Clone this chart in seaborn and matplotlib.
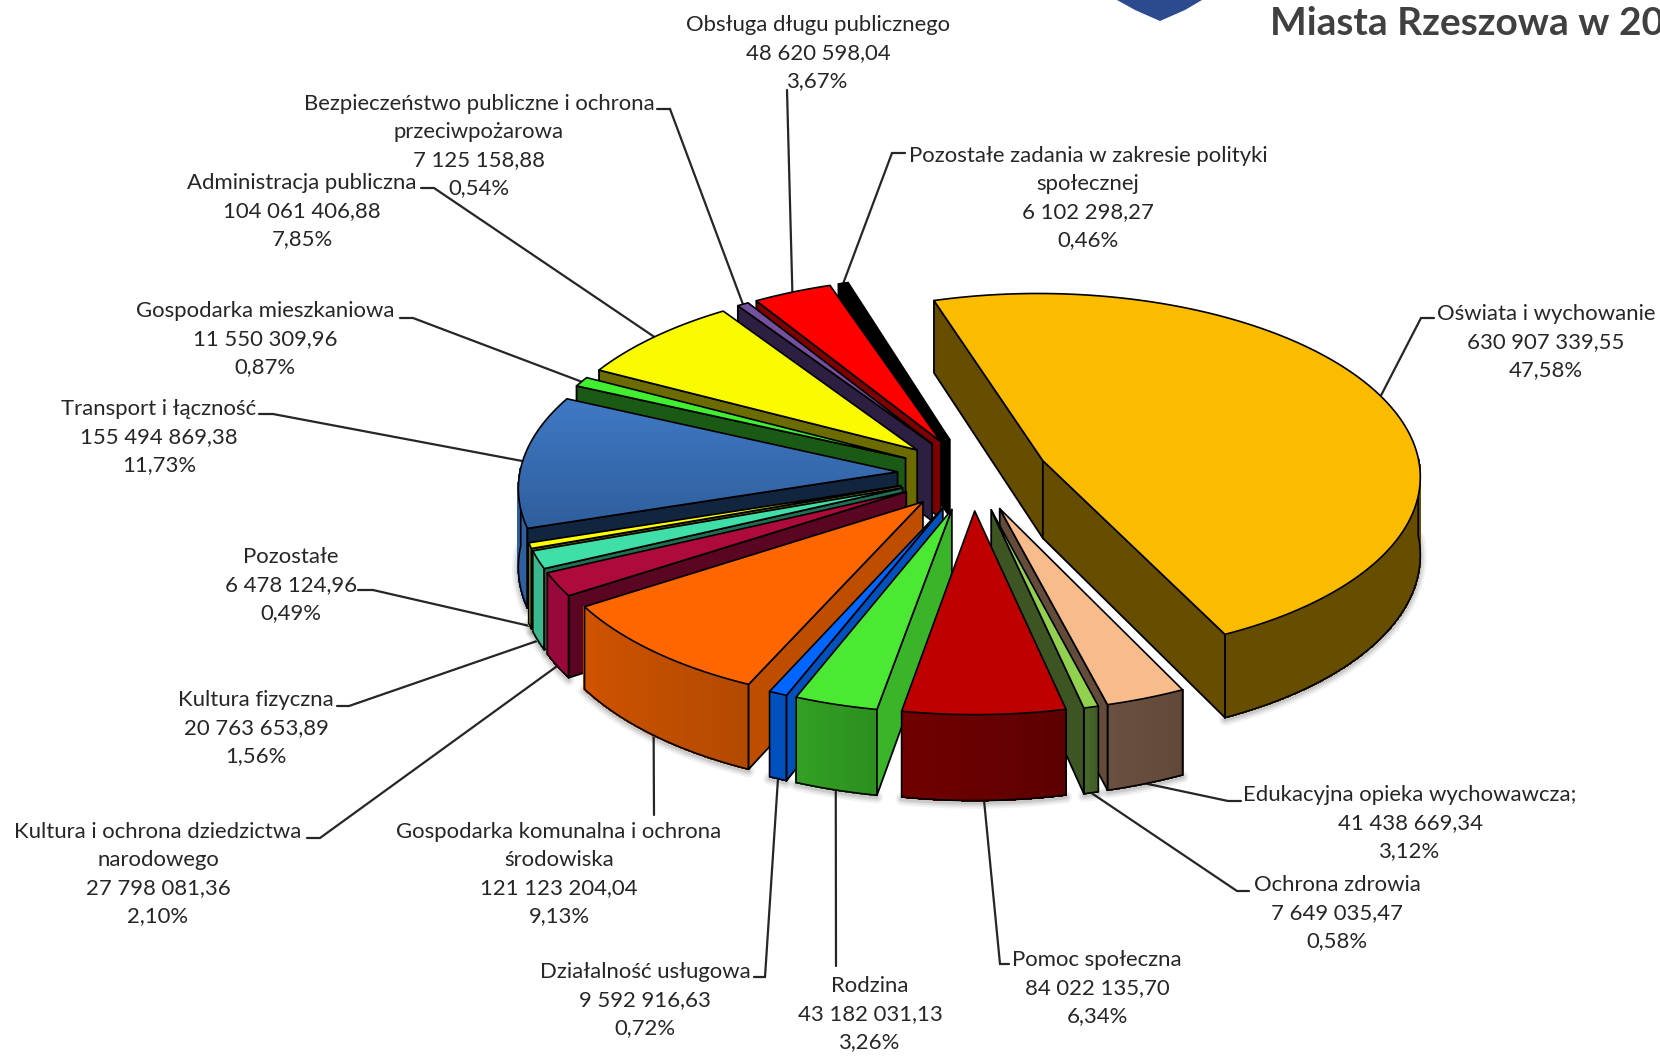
"""Wydatki budżetu Miasta Rzeszowa: exploded 3D pie drawn with seaborn colours."""

import matplotlib

matplotlib.use("Agg")
import matplotlib.pyplot as plt
import numpy as np
import pandas as pd
import seaborn as sns
from matplotlib.colors import to_rgb
from matplotlib.patches import Polygon

# ── Data ───────────────────────────────────────────────────────────────────

categories = [
    "Oświata i wychowanie",
    "Edukacyjna opieka wychowawcza;",
    "Ochrona zdrowia",
    "Pomoc społeczna",
    "Rodzina",
    "Działalność usługowa",
    "Gospodarka komunalna i ochrona\nśrodowiska",
    "Kultura i ochrona dziedzictwa\nnarodowego",
    "Kultura fizyczna",
    "Pozostałe",
    "Transport i łączność",
    "Gospodarka mieszkaniowa",
    "Administracja publiczna",
    "Bezpieczeństwo publiczne i ochrona\nprzeciwpożarowa",
    "Obsługa długu publicznego",
    "Pozostałe zadania w zakresie polityki\nspołecznej",
]
values = [
    630907339.55, 41438669.34, 7649035.47, 84022135.70, 43182031.13,
    9592916.63, 121123204.04, 27798081.36, 20763653.89, 6478124.96,
    155494869.38, 11550309.96, 104061406.88, 7125158.88, 48620598.04,
    6102298.27,
]
shares = [
    "47,58%", "3,12%", "0,58%", "6,34%", "3,26%", "0,72%", "9,13%", "2,10%",
    "1,56%", "0,49%", "11,73%", "0,87%", "7,85%", "0,54%", "3,67%", "0,46%",
]
top_colors = [
    "#FBBC00", "#F7BB8C", "#92D050", "#BE0000", "#4BE834", "#0066FF",
    "#FF6600", "#AE0A3C", "#40DFA8", "#FFFF00", "#3B72BC", "#40F030",
    "#FAFA00", "#7650A0", "#FF0000", "#000000",
]
side_colors = [
    "#664D00", "#654B3A", "#3C5522", "#6A0000", "#3AB52A", "#0050BE",
    "#BF4D00", "#5A0522", "#1F6F55", "#5F5F00", "#12253F", "#1B5A15",
    "#6B6B00", "#2D1F42", "#7F0000", "#000000",
]
# wall colours at the two ends of the outer arc
wall_left = [
    "#664D00", "#6A5040", "#46662A", "#700000", "#33A024", "#0050BE",
    "#D05300", "#98083C", "#3BB88E", "#D9D900", "#2F5F9E", "#2FB024",
    "#C0C000", "#5A3D80", "#BF0000", "#000000",
]
wall_right = [
    "#664D00", "#614838", "#3F5B24", "#5D0000", "#2C8F20", "#0050BE",
    "#B34A00", "#98083C", "#3BB88E", "#D9D900", "#2F5F9E", "#2FB024",
    "#C0C000", "#5A3D80", "#BF0000", "#000000",
]

# ── Layout (pixels of the 1660x1056 picture) ───────────────────────────────

CX, CY = 973, 474       # pie centre
A, B = 378, 182         # plane scale, horizontal and vertical
P = 0.077               # perspective strength
H = 78                  # thickness
EXPLODE = 0.2
START_DEG = -17.3

LABEL_XY = [
    (1546, 342), (1410, 823), (1337, 913), (1097, 988), (870, 1014),
    (645, 1000), (559, 874), (158, 874), (256, 728), (291, 585), (159, 437),
    (265, 339), (302, 211), (479, 146), (818, 53), (1088, 198),
]
# leader route from the slice to its label
LEADER_ROUTE = [
    [(1421, 318), (1434, 318)],
    [(1228, 801), (1241, 801)],
    [(1237, 891), (1249, 891)],
    [(1000, 964), (1009, 964)],
    [(836, 966)],
    [(765, 977), (754, 977)],
    [(654, 815)],
    [(320, 838), (307, 838)],
    [(349, 706), (337, 706)],
    [(373, 590), (358, 590)],
    [(273, 414), (259, 414)],
    [(413, 318), (400, 318)],
    [(434, 188), (421, 188)],
    [(670, 109), (657, 109)],
    [(787, 90)],
    [(892, 153), (905, 153)],
]

TEXT_COLOR = "#262626"
FONT = ["Lato", "DejaVu Sans"]


def project(u, v, z=0.0):
    """Map pie-plane coordinates to picture pixels."""
    u, v, z = np.asarray(u, float), np.asarray(v, float), np.asarray(z, float)
    s = 1 / (1 - P * v)
    return CX + A * u * s, CY + B * v * s + H * z * s


def format_value(value):
    whole, frac = f"{value:.2f}".split(".")
    return f"{int(whole):,}".replace(",", " ") + "," + frac


def face(ax, x, y, color, z, lw=1.3, edge="black"):
    ax.fill(x, y, facecolor=color, edgecolor=edge, linewidth=lw, zorder=z,
            joinstyle="round")


def slice_geometry(a, b):
    mid = np.radians((a + b) / 2)
    ox, oy = EXPLODE * np.sin(mid), -EXPLODE * np.cos(mid)
    t = np.radians(np.linspace(a, b, max(int(b - a) * 2, 3)))
    return ox, oy, ox + np.sin(t), oy - np.cos(t), t


def draw_slice(ax, a, b, top, side, wall_l, wall_r, z, gradient=False):
    ox, oy, au, av, t = slice_geometry(a, b)

    # outer wall, only where it looks toward the viewer
    front = (np.cos(t) < 0.02)
    if front.sum() > 1:
        idx = np.where(front)[0]
        wu, wv = au[idx], av[idx]
        sx, sy = project(wu, wv, 1)
        for lw, alpha in ((9, 0.05), (6, 0.07), (3, 0.1)):
            ax.plot(sx, sy + 2, color="black", lw=lw, alpha=alpha, zorder=z,
                    solid_capstyle="round")
        c0, c1 = np.array(to_rgb(wall_r)), np.array(to_rgb(wall_l))
        tx, ty = project(wu, wv, 0)
        n = len(wu) - 1
        for i in range(n):
            mix = i / max(n - 1, 1)
            col = c0 * (1 - mix) + c1 * mix
            # no antialiasing here, it leaves stripes between the segments
            ax.fill([tx[i], tx[i + 1], sx[i + 1], sx[i]],
                    [ty[i], ty[i + 1], sy[i + 1], sy[i]],
                    facecolor=col, edgecolor=col, linewidth=0.8,
                    antialiased=False, zorder=z + 0.1)
        ax.plot(np.r_[tx[0], sx, tx[-1]], np.r_[ty[0], sy, ty[-1]],
                color="black", lw=1.2, zorder=z + 0.2)

    # radial cut faces
    for ang, visible, u, v in (
        (a, np.sin(np.radians(a)) < 0, au[0], av[0]),
        (b, np.sin(np.radians(b)) > 0, au[-1], av[-1]),
    ):
        if visible:
            x, y = project([ox, u, u, ox], [oy, v, v, oy], [0, 0, 1, 1])
            face(ax, x, y, side, z + 0.3)

    # top face
    x, y = project(np.r_[ox, au], np.r_[oy, av])
    if gradient:
        grad = np.linspace(0, 1, 64)[:, None]
        c0, c1 = np.array(to_rgb("#4079C6")), np.array(to_rgb("#2F5E9C"))
        rgb = (c0 * (1 - grad) + c1 * grad)[:, None, :]
        img = ax.imshow(rgb, extent=(x.min(), x.max(), y.max(), y.min()),
                        aspect="auto", zorder=z + 0.4)
        img.set_clip_path(Polygon(np.c_[x, y], transform=ax.transData))
        ax.fill(x, y, facecolor="none", edgecolor="black", linewidth=1.2,
                zorder=z + 0.5)
    else:
        face(ax, x, y, top, z + 0.4, lw=1.2)


# ── Figure ─────────────────────────────────────────────────────────────────

sns.set_theme(style="white")
plt.rcParams["font.family"] = FONT

df = pd.DataFrame({"category": categories, "value": values, "share": shares})
sweep = df["value"] / df["value"].sum() * 360
df["start"] = START_DEG + sweep.cumsum().shift(fill_value=0)
df["end"] = START_DEG + sweep.cumsum()
df["mid"] = (df["start"] + df["end"]) / 2

palette = sns.color_palette(top_colors)

fig = plt.figure(figsize=(16.6, 10.56), dpi=100, facecolor="white")
ax = fig.add_axes([0, 0, 1, 1])

# back slices first, front slices paint over them
order = (-np.cos(np.radians(df["mid"]))).argsort().to_numpy()
for rank, i in enumerate(order):
    row = df.iloc[i]
    draw_slice(ax, row["start"], row["end"], palette[i], side_colors[i],
               wall_left[i], wall_right[i], 10 + rank,
               gradient=row["category"].startswith("Transport"))

ax.set_xlim(0, 1660)
ax.set_ylim(1056, 0)
ax.axis("off")

# ── Labels and leader lines ────────────────────────────────────────────────

for i, row in df.iterrows():
    m = np.radians(row["mid"])
    u, v = (1 + EXPLODE) * np.sin(m), -(1 + EXPLODE) * np.cos(m)
    on_wall = np.cos(m) < -0.05
    ax_, ay_ = project(u, v, 1 if on_wall else 0)
    route = [(float(ax_), float(ay_))] + LEADER_ROUTE[i]
    ax.plot(*zip(*route), color="#262626", lw=1.6, zorder=5,
            solid_joinstyle="miter")
    ax.text(*LABEL_XY[i],
            f"{row['category']}\n{format_value(row['value'])}\n{row['share']}",
            ha="center", va="center", ma="center", fontsize=15.9,
            linespacing=1.49, color=TEXT_COLOR, zorder=60)

# fragments cut off by the top edge of the slide
ax.fill([1117, 1135, 1160, 1185, 1202], [0, 10, 21, 10, 0], color="#2E4A8E",
        lw=0, zorder=60)
ax.text(1270, 35, "Miasta Rzeszowa w 20", fontsize=28, fontweight="bold",
        color="#404040", ha="left", va="baseline", zorder=60)

fig.savefig("out.png", dpi=100)
